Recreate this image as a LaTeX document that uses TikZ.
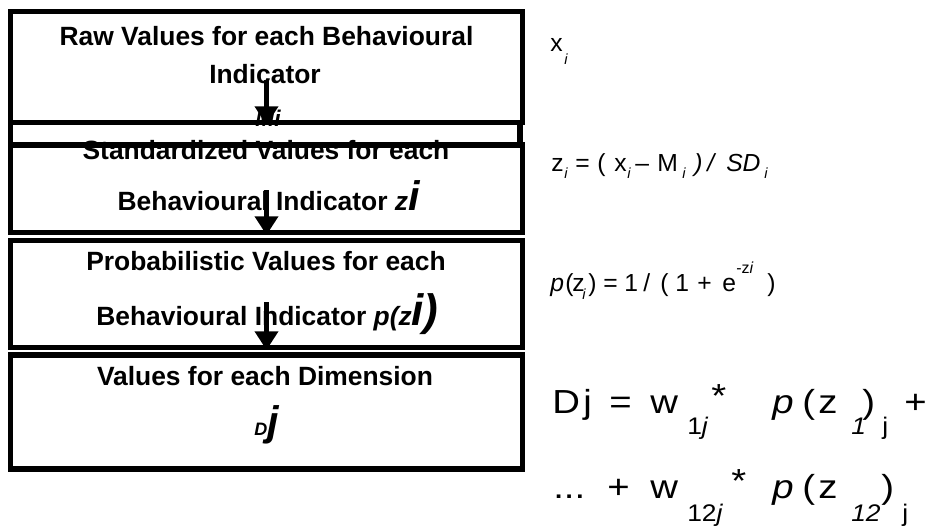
\documentclass[tikz,border=0pt]{standalone}
\usepackage{fontspec}
\setmainfont{Liberation Sans}
\usetikzlibrary{arrows.meta}
\newcommand\hd[1]{\scalebox{1.15}[1]{#1}}
\newcommand\hb[1]{\scalebox{1.1}[1]{#1}}
\begin{document}
\begin{tikzpicture}[x=0.75pt,y=-0.75pt,
  box/.style={draw, line width=3.8pt, inner sep=0pt, minimum width=384pt},
  arr/.style={line width=3.6pt, -{Triangle[width=17pt,length=14pt]}},
  btxt/.style={anchor=base, inner sep=0pt, font=\bfseries\fontsize{19.8}{22}\selectfont},
  ftxt/.style={anchor=base west, inner sep=0pt, font=\fontsize{18.5}{20}\selectfont},
  fsub/.style={anchor=base west, inner sep=0pt, font=\fontsize{11}{12}\selectfont},
  fsup/.style={anchor=base west, inner sep=0pt, font=\fontsize{12}{13}\selectfont},
  dtxt/.style={anchor=base west, inner sep=0pt, font=\fontsize{25}{27}\selectfont},
  dsub/.style={anchor=base west, inner sep=0pt, font=\fontsize{18}{19}\selectfont}]
\useasboundingbox (0,0) rectangle (939,526);
% hidden M_i text under first arrow
\node[btxt, font=\bfseries\itshape\fontsize{17}{18}\selectfont] (mi) at (268,126) {Mi};
% box texts
\node[btxt] (t1a) at (266.5,45) {Raw Values for each Behavioural};
\node[btxt] (t1b) at (265,83) {Indicator};
\node[btxt] (t2a) at (266,159) {Standardized Values for each};
\node[btxt] (t2b) at (269,210) {Behavioural Indicator \textit{z}{\fontsize{31}{31}\selectfont\textit{i}}};
\node[btxt] (t3a) at (266,270) {Probabilistic Values for each};
\node[btxt] (t3b) at (267.5,325) {Behavioural Indicator \textit{p(z}{\fontsize{33}{33}\selectfont\textit{i)}}};
\node[btxt] (t4a) at (265,385) {Values for each Dimension};
\node[btxt] (t4b) at (267,435) {{\fontsize{13.5}{14}\selectfont\textit{D}}{\fontsize{31}{31}\selectfont\textit{j}}};
% boxes
\node[box, minimum height=83.25pt] (b1) at (266.5,67) {};
\node[box, minimum height=16.9pt, minimum width=382.1pt] (b2a) at (265.25,133.75) {};
\node[box, minimum height=65.6pt] (b2) at (266.5,188.75) {};
\node[box, minimum height=80.25pt] (b3) at (266.5,294) {};
\node[box, minimum height=85.5pt] (b4) at (266.5,412) {};
% arrows
\coordinate (s1) at (266.5,80);
\coordinate (s2) at (266.5,190);
\coordinate (s3) at (266.5,302);
\draw[arr] (s1) -- (b1.south);
\draw[arr] (s2) -- (b2.south);
\draw[arr] (s3) -- (b3.south);
% x_i
\node[ftxt] (x0) at (550,51) {x};
\node[fsub] (x1) at (564,64) {\textit{i}};
% z line
\node[ftxt] (z0) at (551,171) {z};
\node[fsub] (z1) at (564,178) {\textit{i}};
\node[ftxt] (z2) at (575,171) {=};
\node[ftxt] (z3) at (597,171) {(};
\node[ftxt] (z4) at (614,171) {x};
\node[fsub] (z5) at (627,178) {\textit{i}};
\node[ftxt] (z6) at (635,171) {–};
\node[ftxt] (z7) at (657,171) {M};
\node[fsub] (z8) at (682,178) {\textit{i}};
\node[ftxt] (z9) at (694,171) {\textit{)}};
\node[ftxt] (z10) at (707,171) {\textit{/}};
\node[ftxt] (z11) at (726,171) {\textit{SD}};
\node[fsub] (z12) at (764,178) {\textit{i}};
% p line
\node[ftxt] (p0) at (550,291) {\textit{p}};
\node[ftxt] (p1) at (565,291) {(};
\node[ftxt] (p2) at (572,291) {z};
\node[fsub] (p3) at (582,299) {\textit{i}};
\node[ftxt] (p4) at (588,291) {)};
\node[ftxt] (p5) at (603,291) {=};
\node[ftxt] (p6) at (624,291) {1};
\node[ftxt] (p7) at (643,291) {/};
\node[ftxt] (p8) at (660,291) {(};
\node[ftxt] (p9) at (675,291) {1};
\node[ftxt] (p10) at (697,291) {+};
\node[ftxt] (p11) at (722,291) {e};
\node[fsup] (p12) at (736,273) {-z\textit{i}};
\node[ftxt] (p13) at (767,291) {)};
% D line 1
\node[dtxt] (d0) at (552,413) {\hd{D}};
\node[dtxt] (d1) at (583,413) {\hd{j}};
\node[dtxt] (d2) at (609,413) {\hd{=}};
\node[dtxt] (d3) at (650,413) {\hd{w}};
\node[dsub] (d4) at (687,434) {\hb{1\textit{j}}};
\node[dtxt] (d5) at (711,407) {\hd{*}};
\node[dtxt] (d6) at (772,413) {\hd{\textit{p}}};
\node[dtxt] (d7) at (802,413) {\hd{(}};
\node[dtxt] (d8) at (818,413) {\hd{z}};
\node[dsub] (d9) at (851,434) {\hb{\textit{1}}};
\node[dtxt] (d10) at (862,413) {\hd{)}};
\node[dsub] (d11) at (882,434) {\hb{j}};
\node[dtxt] (d12) at (904,413) {\hd{+}};
% D line 2
\node[dtxt] (e0) at (553,498) {\hd{...}};
\node[dtxt] (e1) at (607,498) {\hd{+}};
\node[dtxt] (e2) at (650,498) {\hd{w}};
\node[dsub] (e3) at (687,521) {\hb{12\textit{j}}};
\node[dtxt] (e4) at (731,492) {\hd{*}};
\node[dtxt] (e5) at (772,498) {\hd{\textit{p}}};
\node[dtxt] (e6) at (802,498) {\hd{(}};
\node[dtxt] (e7) at (818,498) {\hd{z}};
\node[dsub] (e8) at (851,521) {\hb{\textit{12}}};
\node[dtxt] (e9) at (881,498) {\hd{)}};
\node[dsub] (e10) at (902,521) {\hb{j}};
\end{tikzpicture}
\end{document}
